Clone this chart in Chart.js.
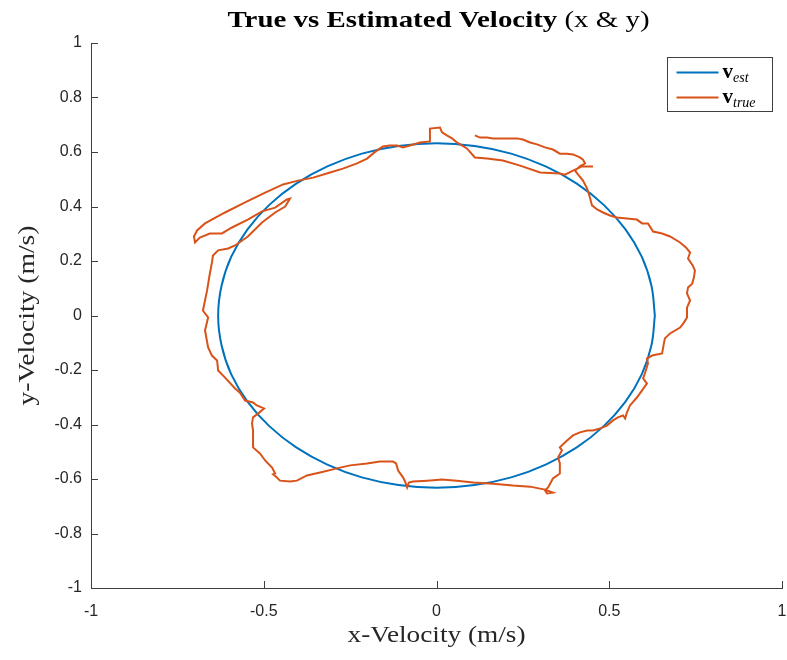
<!DOCTYPE html>
<html><head><meta charset="utf-8">
<script src="https://cdn.jsdelivr.net/npm/chart.js@4.4.1/dist/chart.umd.min.js"></script>
<style>html,body{margin:0;padding:0;background:#fff;}#wrap{width:787px;height:660px;}</style>
</head><body><div id="wrap"><canvas id="c" width="787" height="660"></canvas></div>
<script>
const titleBold = 'True vs Estimated Velocity';
const titleNormal = ' (x & y)';
const xAxisTitle = 'x-Velocity (m/s)';
const yAxisTitle = 'y-Velocity (m/s)';
const seriesMain = ['v', 'v'];
const seriesSub = ['est', 'true'];
const seriesColors = ['#0072BD', '#D95319'];
const xTicks = [-1, -0.5, 0, 0.5, 1];
const yTicks = [-1, -0.8, -0.6, -0.4, -0.2, 0, 0.2, 0.4, 0.6, 0.8, 1];

const estX = [0.632,0.622,0.594,0.547,0.484,0.406,0.316,0.216,0.110,0,
  -0.110,-0.216,-0.316,-0.406,-0.484,-0.547,-0.594,-0.622,-0.632,-0.622,
  -0.594,-0.547,-0.484,-0.406,-0.316,-0.216,-0.110,0,0.110,0.216,
  0.316,0.406,0.484,0.547,0.594,0.622,0.632];
const estY = [0,0.110,0.216,0.316,0.406,0.484,0.547,0.594,0.622,0.632,
  0.622,0.594,0.547,0.484,0.406,0.316,0.216,0.110,0,-0.110,
  -0.216,-0.316,-0.406,-0.484,-0.547,-0.594,-0.622,-0.632,-0.622,-0.594,
  -0.547,-0.484,-0.406,-0.316,-0.216,-0.110,0];

const trueX = [0.111,0.126,0.146,0.164,0.198,0.233,0.250,0.271,0.291,0.314,
  0.337,0.357,0.378,0.395,0.415,0.424,0.430,0.415,0.401,0.410,
  0.424,0.436,0.444,0.450,0.465,0.482,0.502,0.522,0.551,0.580,
  0.595,0.612,0.627,0.653,0.676,0.705,0.722,0.734,0.728,0.742,
  0.748,0.745,0.740,0.728,0.725,0.734,0.725,0.725,0.716,0.705,
  0.676,0.661,0.656,0.653,0.624,0.609,0.612,0.603,0.598,0.609,
  0.595,0.580,0.560,0.551,0.546,0.540,0.525,0.511,0.493,0.473,
  0.453,0.436,0.415,0.395,0.378,0.357,0.363,0.352,0.357,0.357,
  0.337,0.323,0.314,0.320,0.337,0.314,0.271,0.221,0.164,0.106,
  0.059,0.016,-0.027,-0.068,-0.080,-0.085,-0.091,-0.097,-0.111,-0.117,
  -0.126,-0.164,-0.201,-0.250,-0.288,-0.337,-0.375,-0.404,-0.424,-0.453,
  -0.465,-0.473,-0.467,-0.476,-0.496,-0.511,-0.531,-0.531,-0.534,-0.531,
  -0.517,-0.499,-0.520,-0.531,-0.554,-0.569,-0.583,-0.612,-0.632,-0.635,
  -0.650,-0.661,-0.670,-0.661,-0.676,-0.664,-0.656,-0.650,-0.647,-0.632,
  -0.603,-0.583,-0.546,-0.505,-0.467,-0.438,-0.424,-0.433,-0.467,-0.505,
  -0.546,-0.592,-0.621,-0.656,-0.685,-0.699,-0.702,-0.693,-0.670,-0.612,
  -0.554,-0.496,-0.444,-0.401,-0.357,-0.308,-0.271,-0.230,-0.201,-0.184,
  -0.172,-0.155,-0.135,-0.114,-0.097,-0.077,-0.048,-0.019,-0.019,0.010,
  0.016,0.030,0.045,0.059,0.088,0.111,0.146,0.192,0.242,0.300,
  0.357,0.372,0.395,0.421,0.453];
const trueY = [0.661,0.653,0.653,0.650,0.650,0.650,0.646,0.635,0.628,0.617,
  0.609,0.594,0.594,0.591,0.580,0.572,0.558,0.547,0.532,0.517,
  0.495,0.466,0.433,0.404,0.389,0.378,0.367,0.360,0.356,0.352,
  0.338,0.338,0.308,0.301,0.290,0.268,0.250,0.231,0.209,0.183,
  0.165,0.139,0.117,0.103,0.081,0.055,0.029,-0.007,-0.026,-0.044,
  -0.066,-0.084,-0.117,-0.139,-0.147,-0.158,-0.176,-0.213,-0.231,-0.250,
  -0.275,-0.301,-0.330,-0.356,-0.378,-0.367,-0.374,-0.385,-0.404,-0.415,
  -0.422,-0.422,-0.429,-0.440,-0.459,-0.484,-0.495,-0.521,-0.543,-0.580,
  -0.598,-0.631,-0.642,-0.653,-0.650,-0.639,-0.628,-0.624,-0.617,-0.613,
  -0.606,-0.602,-0.606,-0.609,-0.613,-0.631,-0.609,-0.594,-0.569,-0.543,
  -0.536,-0.536,-0.543,-0.550,-0.561,-0.576,-0.587,-0.606,-0.609,-0.606,
  -0.591,-0.583,-0.580,-0.558,-0.532,-0.506,-0.484,-0.422,-0.396,-0.374,
  -0.360,-0.341,-0.330,-0.319,-0.312,-0.283,-0.268,-0.228,-0.202,-0.165,
  -0.147,-0.117,-0.055,-0.007,0.018,0.092,0.154,0.194,0.220,0.239,
  0.246,0.257,0.290,0.341,0.378,0.400,0.429,0.426,0.396,0.382,
  0.352,0.323,0.301,0.301,0.286,0.268,0.290,0.312,0.338,0.378,
  0.415,0.451,0.481,0.495,0.506,0.525,0.539,0.558,0.576,0.594,
  0.606,0.620,0.624,0.624,0.617,0.624,0.635,0.639,0.686,0.690,
  0.672,0.661,0.650,0.635,0.613,0.580,0.576,0.569,0.550,0.525,
  0.521,0.517,0.532,0.547,0.547];

const toPts = (xs, ys) => xs.map((x, i) => ({ x: x, y: ys[i] }));
const AXIS_COLOR = '#404040';
const TEXT_COLOR = '#262626';
const SERIF = "'Liberation Serif', 'Times New Roman', serif";

const inwardTicks = {
  id: 'inwardTicks',
  afterDraw(chart) {
    const { ctx, chartArea: a, scales } = chart;
    ctx.save();
    ctx.strokeStyle = AXIS_COLOR;
    ctx.lineWidth = 1;
    ctx.beginPath();
    xTicks.forEach(v => {
      const px = Math.round(scales.x.getPixelForValue(v)) + 0.5;
      ctx.moveTo(px, a.bottom); ctx.lineTo(px, a.bottom - 7);
    });
    yTicks.forEach(v => {
      const py = Math.round(scales.y.getPixelForValue(v)) + 0.5;
      ctx.moveTo(a.left, py); ctx.lineTo(a.left + 7, py);
    });
    ctx.stroke();
    ctx.restore();
  }
};

function stretchedText(ctx, parts, cx, cy, targetW, rot) {
  let total = 0;
  const widths = parts.map(p => { ctx.font = p.font; const w = ctx.measureText(p.text).width; total += w; return w; });
  const sx = targetW / total;
  ctx.save();
  ctx.translate(cx, cy);
  if (rot) ctx.rotate(rot);
  ctx.scale(sx, 1);
  ctx.textBaseline = 'middle';
  ctx.textAlign = 'left';
  let x = -total / 2;
  parts.forEach((p, i) => {
    ctx.font = p.font;
    ctx.fillStyle = p.color;
    ctx.fillText(p.text, x, 0);
    x += widths[i];
  });
  ctx.restore();
}

const textsPlugin = {
  id: 'textsPlugin',
  afterDraw(chart) {
    const ctx = chart.ctx;
    const a = chart.chartArea;
    const cx = (a.left + a.right) / 2;
    const cy = (a.top + a.bottom) / 2;
    stretchedText(ctx, [
      { text: titleBold, font: 'bold 24px ' + SERIF, color: '#000' },
      { text: titleNormal, font: '24px ' + SERIF, color: '#000' }
    ], cx + 2, 21, 422, 0);
    stretchedText(ctx, [{ text: xAxisTitle, font: '23px ' + SERIF, color: TEXT_COLOR }],
      cx, 636, 178, 0);
    stretchedText(ctx, [{ text: yAxisTitle, font: '23px ' + SERIF, color: TEXT_COLOR }],
      28, cy, 180, -Math.PI / 2);
  }
};

const mathLegend = {
  id: 'mathLegend',
  afterDraw(chart) {
    const ctx = chart.ctx;
    const a = chart.chartArea;
    const bw = 105, bh = 54;
    const bx = Math.round(a.right - 10 - bw) + 0.5;
    const by = Math.round(a.top + 14) + 0.5;
    ctx.save();
    ctx.fillStyle = '#fff';
    ctx.fillRect(bx, by, bw, bh);
    ctx.strokeStyle = AXIS_COLOR;
    ctx.lineWidth = 1;
    ctx.strokeRect(bx, by, bw, bh);
    chart.data.datasets.forEach((ds, i) => {
      const y = by + 15 + i * 25;
      ctx.strokeStyle = ds.borderColor;
      ctx.lineWidth = 2;
      ctx.beginPath();
      ctx.moveTo(bx + 9, y); ctx.lineTo(bx + 51, y);
      ctx.stroke();
      ctx.fillStyle = '#000';
      ctx.textBaseline = 'alphabetic';
      ctx.font = 'bold 21px ' + SERIF;
      ctx.fillText(seriesMain[i], bx + 55, y + 5);
      const vw = ctx.measureText(seriesMain[i]).width;
      ctx.font = 'italic 14px ' + SERIF;
      ctx.fillText(seriesSub[i], bx + 55 + vw, y + 9);
    });
    ctx.restore();
  }
};

new Chart(document.getElementById('c'), {
  type: 'scatter',
  data: {
    datasets: [
      { label: 'v_est', data: toPts(estX, estY), showLine: true, borderColor: seriesColors[0],
        backgroundColor: seriesColors[0], borderWidth: 2, pointRadius: 0, tension: 0.4, order: 1, fill: false },
      { label: 'v_true', data: toPts(trueX, trueY), showLine: true, borderColor: seriesColors[1],
        backgroundColor: seriesColors[1], borderWidth: 2, pointRadius: 0, tension: 0, order: 0, fill: false }
    ]
  },
  options: {
    responsive: false,
    animation: false,
    devicePixelRatio: 1,
    layout: { padding: { top: 43, right: 5, left: 0, bottom: 0 } },
    plugins: { legend: { display: false }, tooltip: { enabled: false }, title: { display: false } },
    scales: {
      x: {
        type: 'linear', min: -1, max: 1,
        afterBuildTicks: s => { s.ticks = xTicks.map(v => ({ value: v })); },
        afterFit: s => { s.height = 72; },
        grid: { display: true, drawOnChartArea: false, drawTicks: true, tickLength: 14, tickColor: 'rgba(0,0,0,0)' },
        border: { display: true, color: AXIS_COLOR, width: 1 },
        ticks: { padding: 0, color: TEXT_COLOR, font: { family: "'Liberation Sans', Arial, sans-serif", size: 16 },
                 maxRotation: 0, autoSkip: false, callback: v => String(v) },
        title: { display: false }
      },
      y: {
        type: 'linear', min: -1, max: 1,
        afterBuildTicks: s => { s.ticks = yTicks.map(v => ({ value: v })); },
        afterFit: s => { s.width = 91; },
        grid: { display: true, drawOnChartArea: false, drawTicks: true, tickLength: 9, tickColor: 'rgba(0,0,0,0)' },
        border: { display: true, color: AXIS_COLOR, width: 1 },
        ticks: { padding: 0, color: TEXT_COLOR, font: { family: "'Liberation Sans', Arial, sans-serif", size: 16 },
                 autoSkip: false, callback: v => String(v) },
        title: { display: false }
      }
    }
  },
  plugins: [inwardTicks, textsPlugin, mathLegend]
});
</script>
</body></html>
